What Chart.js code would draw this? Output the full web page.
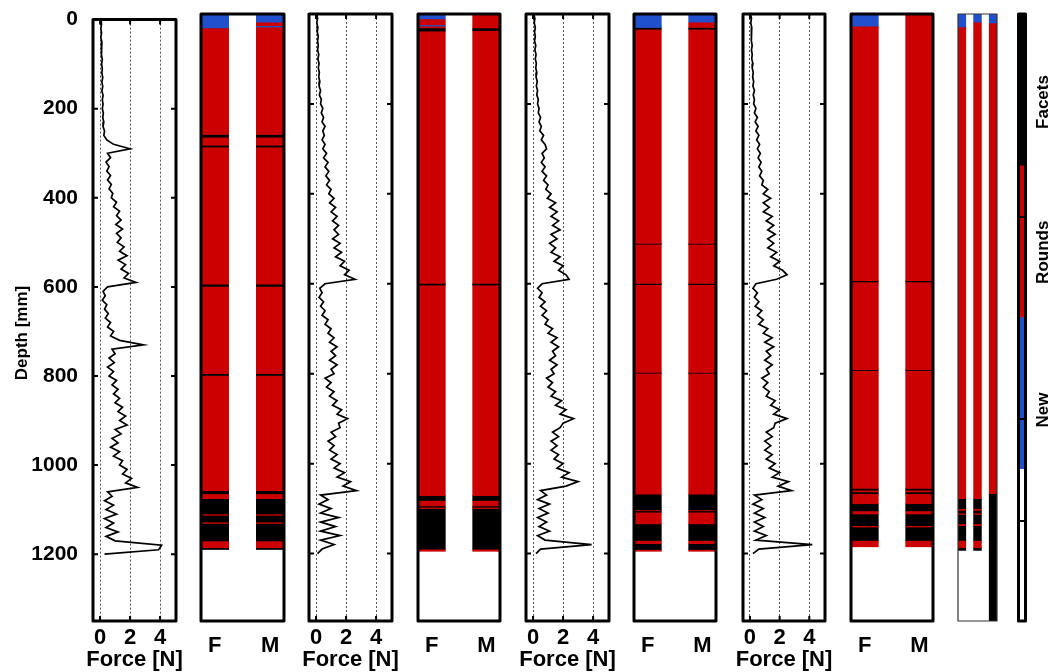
<!DOCTYPE html>
<html>
<head>
<meta charset="utf-8">
<title>Snow profiles</title>
<script src="https://cdn.jsdelivr.net/npm/chart.js@4"></script>
<style>
  html, body { margin: 0; padding: 0; background: #fff; }
  #wrap { position: relative; width: 1052px; height: 672px; overflow: hidden; }
  #wrap canvas { position: absolute; left: 0; top: 0; }
</style>
</head>
<body>
<div id="wrap">
  <canvas id="p1" width="1052" height="672"></canvas>
  <canvas id="p2" width="1052" height="672"></canvas>
  <canvas id="p3" width="1052" height="672"></canvas>
  <canvas id="p4" width="1052" height="672"></canvas>
  <canvas id="p5" width="1052" height="672"></canvas>
  <canvas id="p6" width="1052" height="672"></canvas>
  <canvas id="p7" width="1052" height="672"></canvas>
  <canvas id="p8" width="1052" height="672"></canvas>
  <canvas id="p9" width="1052" height="672"></canvas>
  <canvas id="cb" width="1052" height="672"></canvas>
</div>
<script>
// depth of each force sample [mm]
const depthMm = [
  0, 10, 20, 30, 40, 50, 60, 70, 80, 90,
  100, 110, 120, 130, 140, 150, 160, 170, 180, 190,
  200, 210, 220, 230, 240, 250, 260, 270, 280, 290,
  300, 310, 320, 330, 340, 350, 360, 370, 380, 390,
  400, 410, 420, 430, 440, 450, 460, 470, 480, 490,
  500, 510, 520, 530, 540, 550, 560, 570, 580, 590,
  600, 610, 620, 630, 640, 650, 660, 670, 680, 690,
  700, 710, 720, 730, 740, 750, 760, 770, 780, 790,
  800, 810, 820, 830, 840, 850, 860, 870, 880, 890,
  900, 910, 920, 930, 940, 950, 960, 970, 980, 990,
  1000, 1010, 1020, 1030, 1040, 1050, 1060, 1070, 1080, 1090,
  1100, 1110, 1120, 1130, 1140, 1150, 1160, 1170, 1180, 1190,
  1200
];

// penetration force [N], one list per profile
const forceP1 = [
  0.05, 0.1, 0.05, 0.1, 0.05, 0.12, 0.08, 0.12, 0.08, 0.15,
  0.1, 0.15, 0.12, 0.18, 0.12, 0.18, 0.12, 0.2, 0.15, 0.2,
  0.15, 0.22, 0.18, 0.25, 0.2, 0.3, 0.25, 0.45, 0.9, 2.0,
  0.5, 0.7, 0.4, 0.6, 0.45, 0.7, 0.5, 0.75, 0.6, 0.85,
  0.75, 1.1, 0.9, 1.3, 1.1, 1.4, 1.05, 1.5, 1.1, 1.4,
  1.15, 1.6, 1.3, 1.8, 1.2, 1.7, 1.4, 1.9, 1.6, 2.4,
  0.5, 0.2, 0.35, 0.15, 0.45, 0.3, 0.55, 0.35, 0.7, 0.5,
  0.9, 0.7, 1.3, 2.9, 0.8, 1.0, 0.6, 0.95, 0.5, 0.9,
  0.6, 1.1, 0.8, 1.2, 0.9, 1.3, 1.0, 1.5, 1.2, 1.7,
  1.3, 1.8, 1.0, 1.4, 0.8, 1.2, 0.7, 1.3, 0.9, 1.5,
  1.3, 1.8, 1.5, 2.1, 1.7, 2.5, 0.5, 0.8, 0.3, 0.9,
  0.4, 1.1, 0.3, 0.9, 0.4, 1.2, 0.4, 1.0, 4.1, 3.9,
  0.3
];
const forceP3 = [
  0.05, 0.1, 0.05, 0.12, 0.08, 0.15, 0.1, 0.15, 0.1, 0.18,
  0.12, 0.2, 0.15, 0.22, 0.18, 0.25, 0.2, 0.3, 0.22, 0.35,
  0.3, 0.45, 0.35, 0.5, 0.4, 0.6, 0.45, 0.55, 0.4, 0.6,
  0.45, 0.7, 0.5, 0.8, 0.6, 0.85, 0.65, 0.9, 0.7, 1.0,
  0.85, 1.2, 0.9, 1.3, 1.0, 1.4, 1.1, 1.5, 1.2, 1.5,
  1.1, 1.6, 1.2, 1.7, 1.3, 1.9, 1.6, 2.2, 1.9, 2.6,
  0.6, 0.25, 0.4, 0.2, 0.5, 0.3, 0.6, 0.4, 0.8, 0.6,
  1.0, 0.8, 1.2, 0.9, 1.4, 1.0, 1.3, 0.9, 1.4, 1.0,
  1.2, 0.6, 1.0, 0.7, 1.2, 0.9, 1.4, 1.1, 1.7, 1.4,
  2.1, 1.5, 1.6, 1.0, 1.3, 0.8, 1.2, 0.9, 1.4, 1.0,
  1.6, 1.2, 1.9, 1.4, 2.3, 1.8, 2.7, 0.3, 0.8, 0.2,
  1.0, 0.3, 1.5, 0.3, 1.3, 0.3, 1.6, 0.3, 1.2, 0.4,
  0.1
];
const forceP5 = [
  0.05, 0.12, 0.08, 0.15, 0.1, 0.15, 0.1, 0.18, 0.12, 0.2,
  0.15, 0.22, 0.18, 0.25, 0.2, 0.28, 0.22, 0.3, 0.25, 0.35,
  0.3, 0.4, 0.35, 0.5, 0.4, 0.55, 0.45, 0.7, 0.55, 0.8,
  0.9, 0.6, 0.75, 0.55, 0.8, 0.6, 0.9, 0.7, 1.0, 0.85,
  1.2, 0.95, 1.5, 1.1, 1.6, 1.2, 1.7, 1.3, 1.8, 1.2,
  1.6, 1.1, 1.5, 1.2, 1.8, 1.4, 2.0, 1.7, 2.2, 2.4,
  0.6, 0.3, 0.6, 0.4, 0.8, 0.5, 0.9, 0.6, 1.0, 0.8,
  1.3, 1.0, 1.6, 1.2, 1.7, 1.3, 1.5, 1.1, 1.6, 1.2,
  1.4, 0.9, 1.3, 1.0, 1.5, 1.2, 1.9, 1.5, 2.2, 1.8,
  2.7, 2.0, 1.8, 1.3, 1.7, 1.2, 1.6, 1.2, 1.7, 1.4,
  2.0, 1.6, 2.4, 1.9, 3.0, 2.2, 0.5, 0.9, 0.3, 1.1,
  0.4, 1.0, 0.3, 0.9, 0.4, 1.1, 0.3, 0.8, 3.9, 0.5,
  0.2
];
const forceP7 = [
  0.05, 0.1, 0.05, 0.12, 0.08, 0.12, 0.08, 0.15, 0.1, 0.15,
  0.12, 0.2, 0.15, 0.22, 0.18, 0.25, 0.2, 0.3, 0.22, 0.3,
  0.25, 0.4, 0.3, 0.5, 0.35, 0.55, 0.4, 0.6, 0.45, 0.65,
  0.5, 0.7, 0.55, 0.75, 0.6, 0.8, 0.65, 0.9, 0.8, 1.2,
  0.9, 1.4, 0.9, 1.3, 0.9, 1.5, 1.1, 1.6, 1.2, 1.7,
  1.2, 1.6, 1.2, 1.8, 1.4, 2.0, 1.6, 2.2, 2.5, 1.8,
  0.4, 0.2, 0.5, 0.3, 0.6, 0.35, 0.8, 0.5, 0.9, 0.6,
  1.2, 0.9, 1.5, 1.0, 1.6, 1.1, 1.4, 1.0, 1.5, 1.1,
  1.3, 0.8, 1.2, 0.9, 1.3, 1.1, 1.7, 1.4, 2.0, 1.6,
  2.5, 1.7, 1.6, 1.1, 1.5, 1.0, 1.4, 1.0, 1.5, 1.1,
  1.7, 1.3, 2.0, 1.5, 2.6, 1.9, 2.8, 0.3, 0.8, 0.2,
  0.9, 0.3, 1.0, 0.3, 0.9, 0.3, 1.1, 0.4, 4.2, 0.6,
  0.2
];

// grain-type layers: edges [mm] and class of each layer (N new, R rounds, F facets)
const p2F_edges = [0, 31, 268, 274, 292, 296, 601, 606, 800, 804, 1060, 1067, 1078, 1112, 1115, 1130, 1133, 1172, 1187, 1191];
const p2F_class = ['N', 'R', 'F', 'R', 'F', 'R', 'F', 'R', 'F', 'R', 'F', 'R', 'F', 'R', 'F', 'R', 'F', 'R', 'F'];
const p2M_edges = [0, 18, 26, 29, 268, 274, 292, 296, 601, 606, 800, 804, 1060, 1067, 1078, 1112, 1115, 1130, 1133, 1172, 1187, 1191];
const p2M_class = ['N', 'R', 'N', 'R', 'F', 'R', 'F', 'R', 'F', 'R', 'F', 'R', 'F', 'R', 'F', 'R', 'F', 'R', 'F', 'R', 'F'];

const p4F_edges = [0, 11, 24, 27, 31, 38, 599, 603, 1071, 1082, 1094, 1097, 1100, 1190, 1195];
const p4F_class = ['N', 'R', 'N', 'R', 'F', 'R', 'F', 'R', 'F', 'R', 'F', 'R', 'F', 'R'];
const p4M_edges = [0, 31, 37, 599, 603, 1071, 1082, 1094, 1097, 1100, 1190, 1195];
const p4M_class = ['R', 'F', 'R', 'F', 'R', 'F', 'R', 'F', 'R', 'F', 'R'];

const p6F_edges = [0, 30, 34, 510, 512, 599, 602, 797, 799, 1068, 1103, 1105, 1108, 1134, 1171, 1178, 1191, 1195];
const p6F_class = ['N', 'F', 'R', 'F', 'R', 'F', 'R', 'F', 'R', 'F', 'R', 'F', 'R', 'F', 'R', 'F', 'R'];
const p6M_edges = [0, 18, 30, 34, 510, 512, 599, 602, 797, 799, 1068, 1103, 1105, 1108, 1134, 1171, 1178, 1191, 1195];
const p6M_class = ['N', 'R', 'F', 'R', 'F', 'R', 'F', 'R', 'F', 'R', 'F', 'R', 'F', 'R', 'F', 'R', 'F', 'R'];

const p8F_edges = [0, 27, 593, 596, 791, 793, 1055, 1059, 1063, 1067, 1089, 1105, 1112, 1138, 1141, 1171, 1185];
const p8F_class = ['N', 'R', 'F', 'R', 'F', 'R', 'F', 'R', 'F', 'R', 'F', 'R', 'F', 'R', 'F', 'R'];
const p8M_edges = [0, 593, 596, 791, 793, 1055, 1059, 1063, 1067, 1089, 1105, 1112, 1138, 1141, 1171, 1185];
const p8M_class = ['R', 'F', 'R', 'F', 'R', 'F', 'R', 'F', 'R', 'F', 'R', 'F', 'R', 'F', 'R'];

// summary panel, three narrow columns
const p9A_edges = [0, 29, 1078, 1100, 1104, 1110, 1113, 1134, 1138, 1171, 1187, 1193];
const p9A_class = ['N', 'R', 'F', 'R', 'F', 'R', 'F', 'R', 'F', 'R', 'F'];
const p9B_edges = [0, 18, 1078, 1100, 1104, 1110, 1113, 1134, 1138, 1171, 1187, 1193];
const p9B_class = ['N', 'R', 'F', 'R', 'F', 'R', 'F', 'R', 'F', 'R', 'F'];
const p9C_edges = [0, 20, 1067, 1350];
const p9C_class = ['N', 'R', 'F'];

// colour bar
const cbClass = ['W', 'N', 'R', 'F'];
const cbLabels = ['New', 'Rounds', 'Facets'];
const cbLabelPos = [1.39, 2.43, 3.42];
const cbTicks = [0.66, 1.33, 2.66];

const depthTicks = [0, 200, 400, 600, 800, 1000, 1200];

const layerColors = { N: '#2150cc', R: '#cc0000', F: '#000000', W: '#ffffff' };
const FONT = "'Liberation Sans', Arial, Helvetica, sans-serif";
const W = 1052, H = 672;
const AREA_TOP = 14, AREA_BOTTOM = 621;

// box around each panel
const panelBox = {
  id: 'panelBox',
  afterDraw(chart, args, opts) {
    const { ctx, chartArea: a } = chart;
    ctx.save();
    ctx.strokeStyle = opts.color || '#000';
    ctx.lineWidth = opts.width || 3;
    ctx.lineJoin = 'round';
    ctx.strokeRect(a.left, a.top, a.right - a.left, a.bottom - a.top);
    ctx.restore();
  }
};

// short tick marks drawn inside the box
const innerTicks = {
  id: 'innerTicks',
  afterDatasetsDraw(chart, args, opts) {
    if (!opts.show) return;
    const { ctx, chartArea: a, scales } = chart;
    const len = 5;
    ctx.save();
    ctx.strokeStyle = '#000';
    ctx.lineWidth = 2;
    ctx.beginPath();
    scales.x.ticks.forEach(t => {
      const x = scales.x.getPixelForValue(t.value);
      ctx.moveTo(x, a.bottom); ctx.lineTo(x, a.bottom - len);
      ctx.moveTo(x, a.top); ctx.lineTo(x, a.top + len);
    });
    scales.y.ticks.forEach(t => {
      const y = scales.y.getPixelForValue(t.value);
      ctx.moveTo(a.left, y); ctx.lineTo(a.left + len, y);
      ctx.moveTo(a.right, y); ctx.lineTo(a.right - len, y);
    });
    ctx.stroke();
    ctx.restore();
  }
};

// axis titles drawn by hand (Chart.js squeezes scale titles to the scale width)
const axisTitles = {
  id: 'axisTitles',
  afterDraw(chart, args, opts) {
    const { ctx, chartArea: a } = chart;
    ctx.save();
    ctx.fillStyle = '#000';
    ctx.textAlign = 'center';
    ctx.textBaseline = 'middle';
    ctx.font = 'bold 22px ' + FONT;
    ctx.fillText('Force [N]', (a.left + a.right) / 2, 660);
    if (opts.depth) {
      ctx.font = 'bold 17px ' + FONT;
      ctx.translate(22, 333);
      ctx.rotate(-Math.PI / 2);
      ctx.fillText('Depth [mm]', 0, 0);
    }
    ctx.restore();
  }
};

// labels and ticks of the colour bar
const barLabels = {
  id: 'barLabels',
  afterDraw(chart) {
    const { ctx, chartArea: a, scales } = chart;
    ctx.save();
    ctx.strokeStyle = '#000';
    ctx.lineWidth = 2;
    cbTicks.forEach(v => {
      const y = Math.round(scales.y.getPixelForValue(v));
      ctx.beginPath(); ctx.moveTo(a.left, y); ctx.lineTo(a.right, y); ctx.stroke();
    });
    ctx.fillStyle = '#000';
    ctx.font = 'bold 17px ' + FONT;
    ctx.textAlign = 'center';
    ctx.textBaseline = 'middle';
    cbLabels.forEach((txt, i) => {
      const y = scales.y.getPixelForValue(cbLabelPos[i]);
      ctx.save();
      ctx.translate(a.right + 18, y);
      ctx.rotate(-Math.PI / 2);
      ctx.fillText(txt, 0, 0);
      ctx.restore();
    });
    ctx.restore();
  }
};

function depthScale(withLabels, leftPad, left) {
  return {
    type: 'linear', reverse: true, min: 0, max: 1350,
    afterBuildTicks: s => { s.ticks = depthTicks.map(v => ({ value: v })); },
    afterFit: s => { s.width = withLabels ? left - leftPad : 0; },
    ticks: { display: withLabels, color: '#000', padding: 7, callback: v => String(v),
             font: { family: FONT, size: 21, weight: 'bold' } },
    grid: { display: false },
    border: { display: false }
  };
}

function commonOptions(left, right, leftPad) {
  return {
    responsive: false, animation: false, events: [],
    layout: { padding: { left: leftPad, right: W - right, top: AREA_TOP, bottom: 0 } },
    plugins: { legend: { display: false }, tooltip: { enabled: false } }
  };
}

function forcePanel(id, left, right, force, withDepth) {
  const leftPad = withDepth ? 8 : left;
  const points = depthMm.map((d, i) => ({ x: force[i], y: d }));
  const opts = commonOptions(left, right, leftPad);
  opts.plugins.panelBox = { width: 3 };
  opts.plugins.innerTicks = { show: true };
  opts.plugins.axisTitles = { depth: withDepth };
  opts.scales = {
    x: {
      type: 'linear', min: -0.47, max: 5.06,
      afterFit: s => { s.height = H - AREA_BOTTOM; },
      ticks: { stepSize: 2, includeBounds: false, color: '#000', padding: 4,
               font: { family: FONT, size: 22, weight: 'bold' } },
      grid: { color: '#555', lineWidth: 1, drawTicks: false },
      border: { display: false, dash: [2, 2] }
    },
    y: depthScale(withDepth, leftPad, left)
  };
  new Chart(document.getElementById(id), {
    type: 'scatter',
    data: { datasets: [{ data: points, showLine: true, borderColor: '#000', borderWidth: 1.7,
                         pointRadius: 0, tension: 0, fill: false }] },
    options: opts,
    plugins: [panelBox, innerTicks, axisTitles]
  });
}

function layerPanel(id, left, right, labels, columns, boxOpts, showLabels) {
  const datasets = [];
  columns.forEach(col => {
    col.classes.forEach((c, i) => {
      const data = labels.map(() => null);
      data[col.index] = [col.edges[i], col.edges[i + 1]];
      datasets.push({ data, backgroundColor: layerColors[c], borderWidth: 0, grouped: false,
                      barPercentage: 1, categoryPercentage: 1 });
    });
  });
  const opts = commonOptions(left, right, left);
  opts.plugins.panelBox = boxOpts;
  opts.scales = {
    x: {
      type: 'category',
      afterFit: s => { s.height = H - AREA_BOTTOM; },
      ticks: { display: showLabels, color: '#000', padding: 4, font: { family: FONT, size: 22, weight: 'bold' } },
      grid: { display: false },
      border: { display: false }
    },
    y: depthScale(false, left, left)
  };
  new Chart(document.getElementById(id), {
    type: 'bar',
    data: { labels, datasets },
    options: opts,
    plugins: [panelBox]
  });
}

forcePanel('p1', 93, 176, forceP1, true);
forcePanel('p3', 309, 392, forceP3, false);
forcePanel('p5', 526, 609, forceP5, false);
forcePanel('p7', 743, 825, forceP7, false);

const fm = ['F', '', 'M'];
layerPanel('p2', 201, 284, fm, [
  { index: 0, edges: p2F_edges, classes: p2F_class },
  { index: 2, edges: p2M_edges, classes: p2M_class }], { width: 3 }, true);
layerPanel('p4', 418, 500, fm, [
  { index: 0, edges: p4F_edges, classes: p4F_class },
  { index: 2, edges: p4M_edges, classes: p4M_class }], { width: 3 }, true);
layerPanel('p6', 634, 716, fm, [
  { index: 0, edges: p6F_edges, classes: p6F_class },
  { index: 2, edges: p6M_edges, classes: p6M_class }], { width: 3 }, true);
layerPanel('p8', 851, 933, fm, [
  { index: 0, edges: p8F_edges, classes: p8F_class },
  { index: 2, edges: p8M_edges, classes: p8M_class }], { width: 3 }, true);
layerPanel('p9', 958, 997, ['a', '', 'b', '', 'c'], [
  { index: 0, edges: p9A_edges, classes: p9A_class },
  { index: 2, edges: p9B_edges, classes: p9B_class },
  { index: 4, edges: p9C_edges, classes: p9C_class }], { width: 1.2, color: '#333' }, false);

// colour bar
(function () {
  const datasets = cbClass.map((c, i) => ({
    data: [[i, i + 1]], backgroundColor: layerColors[c], borderWidth: 0, grouped: false,
    barPercentage: 1, categoryPercentage: 1
  }));
  const opts = commonOptions(1018.5, 1025.5, 1018.5);
  opts.plugins.panelBox = { width: 3 };
  opts.scales = {
    x: { type: 'category', afterFit: s => { s.height = H - AREA_BOTTOM; },
         ticks: { display: false }, grid: { display: false }, border: { display: false } },
    y: { type: 'linear', min: 0, max: 4, afterFit: s => { s.width = 0; },
         ticks: { display: false }, grid: { display: false }, border: { display: false } }
  };
  new Chart(document.getElementById('cb'), {
    type: 'bar',
    data: { labels: [''], datasets },
    options: opts,
    plugins: [barLabels, panelBox]
  });
})();
</script>
</body>
</html>
